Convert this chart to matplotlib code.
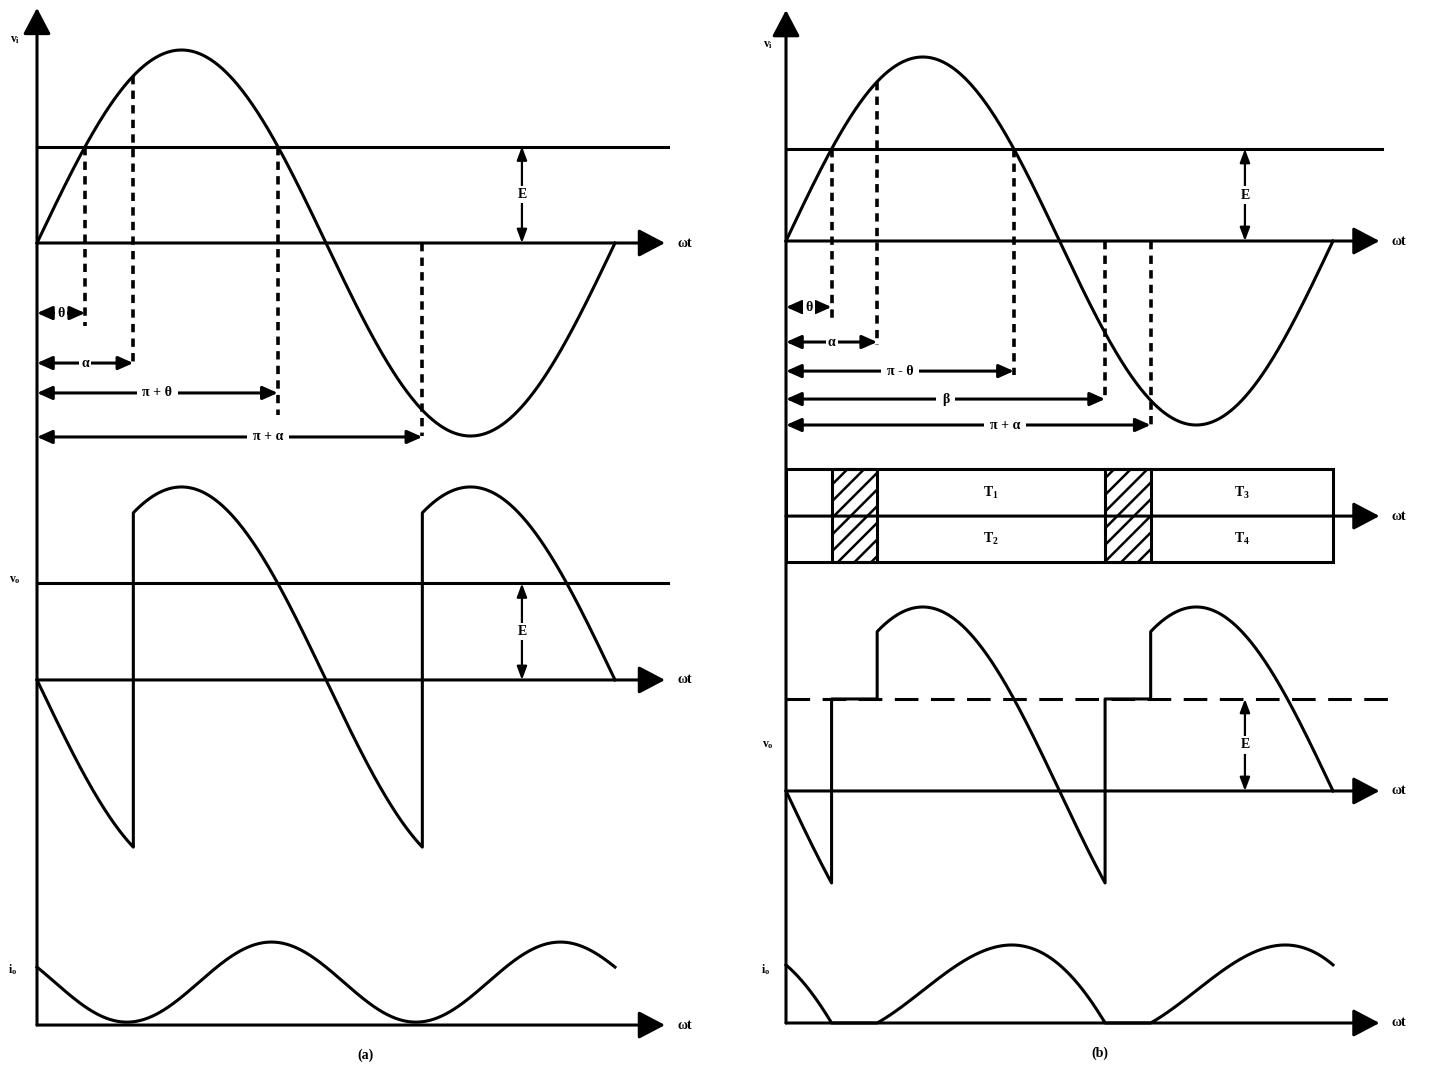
"""Waveforms of a single-phase full-wave controlled rectifier feeding an RLE load."""

import matplotlib.pyplot as plt
import numpy as np
from matplotlib.patches import Rectangle

# angles (degrees)
theta_deg = 30          # v_i crosses E
alpha_deg = 60          # firing angle
beta_deg = 210          # extinction angle, fig (b)
e_level = 0.5           # E as a fraction of the v_i peak

# dimension arrows under v_i
dims_a = ["θ", "α", "π + θ", "π + α"]
dims_a_deg = [30, 60, 150, 240]
dims_b = ["θ", "α", "π - θ", "β", "π + α"]
dims_b_deg = [30, 60, 150, 210, 240]

# gate pulses, fig (b)
gate_labels = [r"$\mathrm{T_1}$", r"$\mathrm{T_2}$", r"$\mathrm{T_3}$", r"$\mathrm{T_4}$"]

# load current (in v_i peak units)
ia_low, ia_high = 0.015, 0.43   # ripple of the continuous current, fig (a)
ia_min_deg = 56                 # first minimum, fig (a)
ib_peak = 0.424                 # pulse peak, fig (b)

W, H = 1429, 1067
LW = 2.2

plt.rcParams["font.family"] = ["Liberation Serif", "DejaVu Serif"]
plt.rcParams["font.weight"] = "bold"
plt.rcParams["mathtext.fontset"] = "custom"
plt.rcParams["mathtext.rm"] = "Liberation Serif:bold"
plt.rcParams["mathtext.it"] = "Liberation Serif:bold"
plt.rcParams["lines.scale_dashes"] = False
plt.rcParams["hatch.linewidth"] = 1.8

AX_ARROW = dict(arrowstyle="-|>,head_length=0.95,head_width=0.5", mutation_scale=17,
                lw=LW, color="k", shrinkA=0, shrinkB=0)
DIM_ARROW = dict(arrowstyle="<|-|>,head_length=0.9,head_width=0.4", mutation_scale=10,
                 lw=LW, color="k", shrinkA=0, shrinkB=0)
E_ARROW = dict(arrowstyle="<|-|>,head_length=0.8,head_width=0.3", mutation_scale=10,
               lw=1.6, color="k", shrinkA=0, shrinkB=0)
WHITE = dict(fc="white", ec="none", pad=1.5)
GAP = dict(fc="white", ec="none", pad=4)


def column_axes(fig, px_l, px_r, x0, px_pi, y0, px_unit):
    """Axes for one column: x in radians, y in units of the v_i peak."""
    ax = fig.add_axes([px_l / W, 0, (px_r - px_l) / W, 1])
    ax.set_xlim((px_l - x0) / px_pi * np.pi, (px_r - x0) / px_pi * np.pi)
    ax.set_ylim((y0 - H) / px_unit, y0 / px_unit)
    ax.axis("off")
    return ax


def piecewise(edges, funcs, n=300):
    xs, ys = [], []
    for lo, hi, f in zip(edges[:-1], edges[1:], funcs):
        x = np.linspace(lo, hi, n)
        xs.append(x)
        ys.append(f(x) * np.ones_like(x))
    return np.concatenate(xs), np.concatenate(ys)


def h_axis(ax, y, x_end, label="ωt"):
    ax.annotate("", xy=(x_end, y), xytext=(0, y), arrowprops=AX_ARROW)
    ax.annotate(label, xy=(x_end, y), xytext=(9, 0), textcoords="offset points",
                ha="left", va="center", fontsize=10)


def v_axis(ax, y_bot, y_top):
    ax.annotate("", xy=(0, y_top), xytext=(0, y_bot), arrowprops=AX_ARROW)


def e_arrow(ax, x, base, e):
    ax.annotate("", xy=(x, base + e), xytext=(x, base), arrowprops=E_ARROW)
    ax.text(x, base + e / 2, "E", ha="center", va="center", fontsize=10, bbox=WHITE)


def dim_arrows(ax, labels, degs, levels, ends):
    for lab, d, lev, end in zip(labels, degs, levels, ends):
        x = np.radians(d)
        top = max(0.0, np.sin(x))
        ax.plot([x, x], [top, end], color="k", lw=2.6, dashes=(6, 4.5))
        ax.annotate("", xy=(x, lev), xytext=(0, lev), arrowprops=DIM_ARROW)
        frac = 0.6 if d == 240 else 0.5
        box = WHITE if d <= 60 else GAP
        ax.text(x * frac, lev, lab, ha="center", va="center", fontsize=10, bbox=box)


th = np.radians(theta_deg)
al = np.radians(alpha_deg)
be = np.radians(beta_deg)
two_pi = 2 * np.pi
E = e_level

fig = plt.figure(figsize=(W / 100, H / 100), dpi=100)

# ---------------------------------------------------------------- (a)
ax = column_axes(fig, 0, 740, 37, 289, 243, 193)
vo_base, io_base = -2.264, -4.052
x_tip, x_line = 2.173 * np.pi, 2.183 * np.pi
x_e = 1.678 * np.pi

v_axis(ax, io_base, 1.218)
ax.text(-0.24, 1.05, r"$\mathrm{v_i}$", ha="center", va="center", fontsize=8.5)

x = np.linspace(0, two_pi, 600)
ax.plot(x, np.sin(x), color="k", lw=LW)
h_axis(ax, 0, x_tip)
ax.plot([0, x_line], [E, E], color="k", lw=LW)
e_arrow(ax, x_e, 0, E)
dim_arrows(ax, dims_a, dims_a_deg, [-0.363, -0.622, -0.777, -1.005],
           [-0.43, -0.64, -0.89, -1.0])

# output voltage
xo, yo = piecewise([0, al, np.pi + al, two_pi],
                   [lambda t: -np.sin(t), np.sin, lambda t: -np.sin(t)])
ax.plot(xo, vo_base + yo, color="k", lw=LW)
h_axis(ax, vo_base, x_tip)
ax.plot([0, x_line], [vo_base + E, vo_base + E], color="k", lw=LW)
e_arrow(ax, x_e, vo_base, E)
ax.text(-0.24, vo_base + E + 0.02, r"$\mathrm{v_o}$", ha="center", va="center", fontsize=8.5)

# output current
tm = np.radians(ia_min_deg)
ia = ia_low + (ia_high - ia_low) * (1 - np.cos(2 * (x - tm))) / 2
ax.plot(x, io_base + ia, color="k", lw=LW)
h_axis(ax, io_base, x_tip)
ax.text(-0.26, io_base + 0.285, r"$\mathrm{i_o}$", ha="center", va="center", fontsize=8.5)

fig.text(365 / W, 1 - 1055 / H, "(a)", ha="center", va="center", fontsize=10)

# ---------------------------------------------------------------- (b)
ax = column_axes(fig, 740, W, 786, 273.5, 241, 184)
g_top, g_mid, g_bot = -1.239, -1.495, -1.745
vo_base, io_base = -2.989, -4.25
x_tip, x_line = 2.17 * np.pi, 2.18 * np.pi

v_axis(ax, io_base, 1.255)
ax.text(-0.21, 1.065, r"$\mathrm{v_i}$", ha="center", va="center", fontsize=8.5)

ax.plot(x, np.sin(x), color="k", lw=LW)
h_axis(ax, 0, x_tip)
ax.plot([0, x_line], [E, E], color="k", lw=LW)
e_arrow(ax, x_e, 0, E)
dim_arrows(ax, dims_b, dims_b_deg, [-0.359, -0.549, -0.707, -0.859, -1.0],
           [-0.42, -0.565, -0.73, -0.865, -1.016])

# gate pulses
ax.add_patch(Rectangle((0, g_bot), two_pi, g_top - g_bot, fill=False, lw=LW, ec="k"))
for lo, hi in [(th, al), (be, np.pi + al)]:
    ax.add_patch(Rectangle((lo, g_bot), hi - lo, g_top - g_bot, fill=False,
                           hatch="//", lw=LW, ec="k"))
h_axis(ax, g_mid, x_tip)
for i, lab in enumerate(gate_labels):
    xc = (al + be) / 2 if i < 2 else (np.pi + al + two_pi) / 2
    yc = (g_top + g_mid) / 2 if i % 2 == 0 else (g_mid + g_bot) / 2
    ax.text(xc, yc, lab, ha="center", va="center", fontsize=10)

# output voltage
xo, yo = piecewise([0, th, al, be, np.pi + al, two_pi],
                   [lambda t: -np.sin(t), lambda t: E, np.sin, lambda t: E,
                    lambda t: -np.sin(t)])
ax.plot([0, 2.23 * np.pi], [vo_base + E, vo_base + E], color="k", lw=LW,
        dashes=(17, 9))
ax.plot(xo, vo_base + yo, color="k", lw=LW)
h_axis(ax, vo_base, x_tip)
e_arrow(ax, x_e, vo_base, E)
ax.text(-0.21, vo_base + E / 2, r"$\mathrm{v_o}$", ha="center", va="center", fontsize=8.5)

# output current: inductive pulse that starts at alpha and dies at beta
k = (np.cos(al) - np.cos(be)) / (be - al)


def pulse(t):
    return np.clip(np.cos(al) - np.cos(t) - k * (t - al), 0, None)


p_max = pulse(np.pi - np.arcsin(k))
xi, yi = piecewise([0, th, al, be, np.pi + al, two_pi],
                   [lambda t: pulse(t + np.pi), lambda t: 0.0, pulse, lambda t: 0.0,
                    lambda t: pulse(t - np.pi)])
ax.plot(xi, io_base + ib_peak * yi / p_max, color="k", lw=LW)
h_axis(ax, io_base, x_tip)
ax.text(-0.23, io_base + 0.288, r"$\mathrm{i_o}$", ha="center", va="center", fontsize=8.5)

fig.text(1100 / W, 1 - 1053 / H, "(b)", ha="center", va="center", fontsize=10)

fig.savefig("out.png", dpi=100, facecolor="white")
